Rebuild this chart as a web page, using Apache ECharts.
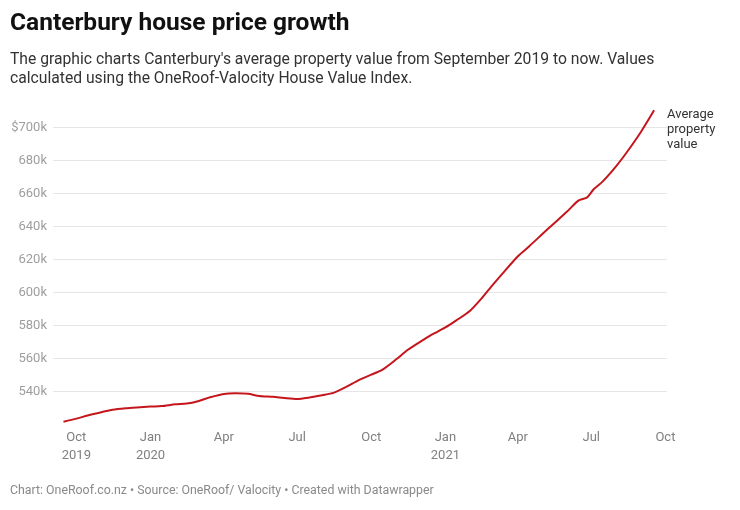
<!DOCTYPE html>
<html><head><meta charset="utf-8">
<script src="https://cdn.jsdelivr.net/npm/echarts@6/dist/echarts.min.js"></script>
<style>html,body{margin:0;padding:0;background:#fff}#c{width:740px;height:510px}</style>
</head><body><div id="c"></div>
<script>
const dates = ['2019-09-15','2019-10-01','2019-10-15','2019-11-01','2019-11-15','2019-12-01','2019-12-15',
  '2020-01-01','2020-01-15','2020-02-01','2020-02-15','2020-03-01','2020-03-15','2020-04-01','2020-04-15',
  '2020-05-01','2020-05-15','2020-06-01','2020-06-15','2020-07-01','2020-07-15','2020-08-01','2020-08-15',
  '2020-09-01','2020-09-15','2020-10-01','2020-10-15','2020-11-01','2020-11-15','2020-12-01','2020-12-15',
  '2021-01-01','2021-01-15','2021-02-01','2021-02-15','2021-03-01','2021-03-15','2021-04-01','2021-04-15',
  '2021-05-01','2021-05-15','2021-06-01','2021-06-15','2021-06-26','2021-07-04','2021-07-15','2021-08-01',
  '2021-08-15','2021-09-01','2021-09-17'];
const values = [521800,523700,525600,527600,529100,530000,530500,
  531000,531300,532400,532800,534400,536600,538600,539000,
  538700,537400,536900,536200,535600,536400,537900,539300,
  543200,546900,550300,553400,559600,565200,570300,574500,
  578900,583300,589200,596500,604800,612700,622000,628000,
  635300,641500,649000,655600,657600,662500,667100,676500,
  685500,697500,710300];
const yTickValues = [540000,560000,580000,600000,620000,640000,660000,680000,700000];
const xTickDates = ['2019-10-01','2020-01-01','2020-04-01','2020-07-01','2020-10-01','2021-01-01','2021-04-01','2021-07-01','2021-10-01'];
const xTickLabels = ['Oct\n2019','Jan\n2020','Apr','Jul','Oct','Jan\n2021','Apr','Jul','Oct'];
const seriesName = 'Average\nproperty\nvalue';

function ts(s){const p=s.split('-').map(Number);return Date.UTC(p[0],p[1]-1,p[2]);}
const xTicks = xTickDates.map(ts);
const labelMap = {}; xTicks.forEach((t,i)=>labelMap[t]=xTickLabels[i]);
const data = dates.map((d,i)=>[ts(d), values[i]]);

const chart = echarts.init(document.getElementById('c'), null, {renderer:'canvas'});
const FONT = 'Roboto, "Noto Sans", sans-serif';
chart.setOption({
  animation:false,
  backgroundColor:'#fff',
  title:[
    {text:'Canterbury house price growth', left:10, top:10, padding:0,
     textStyle:{fontFamily:FONT, fontSize:24.5, fontWeight:'bold', color:'#111', lineHeight:28}},
    {text:"The graphic charts Canterbury's average property value from September 2019 to now. Values\ncalculated using the OneRoof-Valocity House Value Index.",
     left:10, top:50, padding:0,
     textStyle:{fontFamily:FONT, fontSize:15.7, fontWeight:'normal', color:'#333', lineHeight:19.5}},
    {text:'Chart: OneRoof.co.nz • Source: OneRoof/ Valocity • Created with Datawrapper',
     left:10, top:483, padding:0,
     textStyle:{fontFamily:FONT, fontSize:12.35, fontWeight:'normal', color:'#8a8a8a', lineHeight:16}}
  ],
  grid:{left:53, right:73, top:94.25, bottom:85.25, containLabel:false},
  xAxis:{
    type:'value', min:ts('2019-09-02'), max:ts('2021-10-03'),
    axisLine:{show:false}, axisTick:{show:false}, splitLine:{show:false},
    axisLabel:{customValues:xTicks, formatter:v=>labelMap[v]||'', margin:3.5,
      fontFamily:FONT, fontSize:13, color:'#808080', lineHeight:18, align:'center'}
  },
  yAxis:{
    type:'value', min:520000, max:720000, interval:20000,
    axisLine:{show:false}, axisTick:{show:false},
    splitLine:{show:true, showMinLine:false, showMaxLine:false, lineStyle:{color:'#e6e6e6', width:1}},
    axisLabel:{margin:6, fontFamily:FONT, fontSize:13, color:'#9e9e9e',
      formatter:v=>{ if(yTickValues.indexOf(v)<0) return ''; return (v===700000?'$':'')+(v/1000)+'k'; }}
  },
  graphic:[{type:'text', left:667, top:107,
    style:{text:seriesName, fontFamily:FONT, fontSize:13, fill:'#333', lineHeight:15}}],
  series:[{type:'line', name:'Average property value', data:data, showSymbol:false, smooth:0.25,
    lineStyle:{color:'#c4161c', width:2}, itemStyle:{color:'#c4161c'}}]
});
</script></body></html>
